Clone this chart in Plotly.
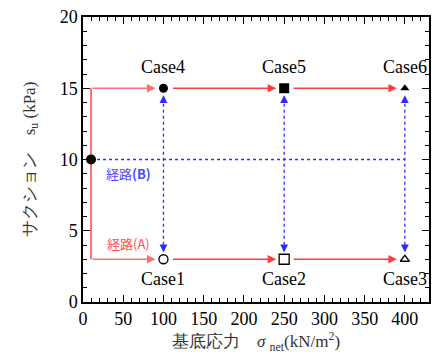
import plotly.graph_objects as go

# Stress states (net stress in kN/m^2, suction in kPa)
start_point = (10, 10)
net_stress = [100, 250, 400]
suction_low = 3
suction_high = 15
cases_low = ["Case1", "Case2", "Case3"]
cases_high = ["Case4", "Case5", "Case6"]
symbols_low = ["circle-open", "square-open", "triangle-up-open"]
symbols_high = ["circle", "square", "triangle-up"]
marker_sizes = [9, 10, 8]

RED = "#ff3b3b"
RED_LIGHT = "#ff6e6e"
BLUE = "#2b2bff"
SERIF = "Times New Roman"
JP = "Noto Sans CJK JP"
DASH = "3px,3px"

fig = go.Figure()

# Path (A): vertical branch at the start net stress
x0, y0 = start_point
fig.add_trace(go.Scatter(x=[x0, x0], y=[suction_low, suction_high], mode="lines",
                         line=dict(color=RED_LIGHT, width=2), hoverinfo="skip"))

# Path (B): dashed line from start point at constant suction
fig.add_trace(go.Scatter(x=[x0, net_stress[-1]], y=[y0, y0], mode="lines",
                         line=dict(color=BLUE, width=1.3, dash=DASH), hoverinfo="skip"))

annotations = []
# Horizontal loading arrows at both suction levels
for s in (suction_low, suction_high):
    prev = [x0] + net_stress[:-1]
    for i, (xa, xb) in enumerate(zip(prev, net_stress)):
        annotations.append(dict(
            x=xb, y=s, ax=xa, ay=s, xref="x", yref="y", axref="x", ayref="y",
            showarrow=True, arrowhead=2, arrowsize=1.3, arrowwidth=1.3,
            arrowcolor=RED if i else RED_LIGHT, standoff=8,
            startstandoff=8 if i else 0, text=""))

# Vertical dashed suction-change lines with arrowheads at both ends
for xv in net_stress:
    fig.add_trace(go.Scatter(x=[xv, xv], y=[suction_low + 0.6, suction_high - 0.6],
                             mode="lines", line=dict(color=BLUE, width=1.3, dash=DASH),
                             hoverinfo="skip"))
    for s, off in ((suction_low, -12), (suction_high, 12)):
        annotations.append(dict(
            x=xv, y=s, ax=0, ay=off, xref="x", yref="y",
            showarrow=True, arrowhead=2, arrowsize=1.3, arrowwidth=1.2,
            arrowcolor=BLUE, standoff=7, text=""))

# Markers
fig.add_trace(go.Scatter(x=[x0], y=[y0], mode="markers",
                         marker=dict(symbol="circle", size=10, color="black"),
                         hoverinfo="skip"))
for xv, sym, sz in zip(net_stress, symbols_high, marker_sizes):
    fig.add_trace(go.Scatter(x=[xv], y=[suction_high], mode="markers",
                             marker=dict(symbol=sym, size=sz, color="black"),
                             hoverinfo="skip"))
for xv, sym, sz in zip(net_stress, symbols_low, marker_sizes):
    fig.add_trace(go.Scatter(x=[xv], y=[suction_low], mode="markers",
                             marker=dict(symbol=sym, size=sz, color="black",
                                         line=dict(width=1.3, color="black")),
                             hoverinfo="skip"))

# Case labels
for xv, name in zip(net_stress, cases_high):
    annotations.append(dict(x=xv, y=suction_high, xref="x", yref="y", text=name,
                            showarrow=False, yshift=21,
                            font=dict(family=SERIF, size=18, color="black")))
for xv, name in zip(net_stress, cases_low):
    annotations.append(dict(x=xv, y=suction_low, xref="x", yref="y", text=name,
                            showarrow=False, yshift=-20,
                            font=dict(family=SERIF, size=18, color="black")))

# Path labels
annotations.append(dict(x=57, y=9.0, xref="x", yref="y", text="経路<b>(B)</b>",
                        showarrow=False, font=dict(family=JP, size=13, color="#4a4aff")))
annotations.append(dict(x=57, y=4.1, xref="x", yref="y", text="経路(A)",
                        showarrow=False, font=dict(family=JP, size=13, color="#ff5050")))

axis_common = dict(showgrid=False, zeroline=False, showline=True, linecolor="black",
                   linewidth=1.5, mirror="ticks", ticks="inside", ticklen=7,
                   tickwidth=1.2, tickcolor="black",
                   tickfont=dict(family=SERIF, size=18, color="black"))

fig.update_layout(
    width=438, height=354,
    margin=dict(l=83, r=7, t=17, b=50),
    paper_bgcolor="white", plot_bgcolor="white",
    showlegend=False,
    font=dict(family=SERIF),
    annotations=annotations,
    xaxis=dict(range=[0, 430], tick0=0, dtick=50,
               minor=dict(dtick=10, ticks="inside", ticklen=4, tickcolor="black"),
               title=dict(text="基底応力　<i>σ</i> <sub>net</sub>(kN/m<sup>2</sup>)",
                          font=dict(family=SERIF, size=17, color="#333"), standoff=6),
               **axis_common),
    yaxis=dict(range=[0, 20], tick0=0, dtick=5,
               minor=dict(dtick=1, ticks="inside", ticklen=4, tickcolor="black"),
               title=dict(text="サクション　s<sub>u</sub> (kPa)",
                          font=dict(family=SERIF, size=17, color="#333"), standoff=20),
               **axis_common),
)

fig.write_html("out.html")
